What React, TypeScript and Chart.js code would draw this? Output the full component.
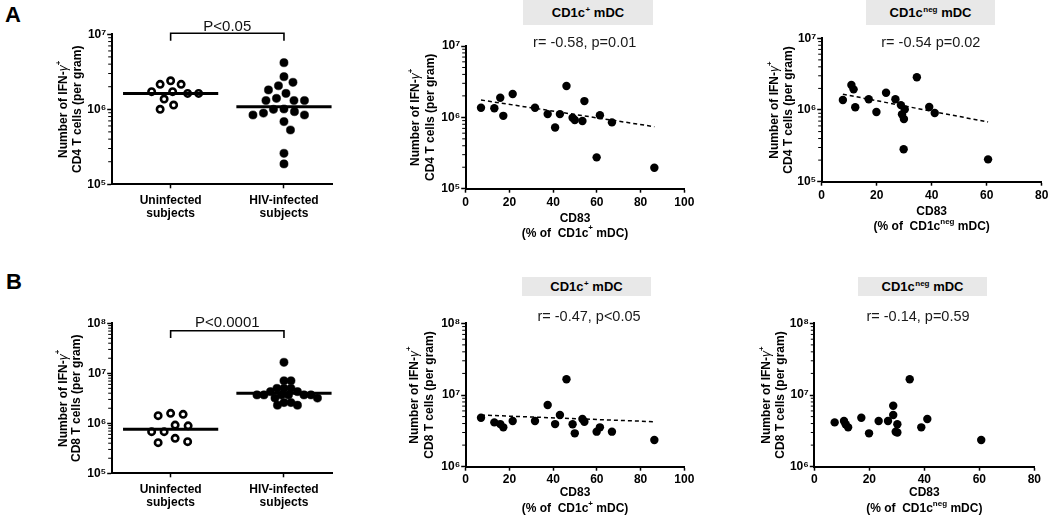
import React, { useEffect, useRef } from 'react';
import { Chart, registerables } from 'chart.js';

Chart.register(...registerables);

// ---------------- data ----------------
const groupLabels: string[][] = [['Uninfected', 'subjects'], ['HIV-infected', 'subjects']];

// Panel A, left: IFN-γ+ CD4 T cells per gram
const cd4Uninfected = [2.15e6, 2.4e6, 2.15e6, 1.72e6, 1.63e6, 1.63e6, 1.72e6, 1.37e6, 1.14e6, 1.0e6];
const cd4HIV = [4.18e6, 2.72e6, 2.29e6, 2.06e6, 1.81e6, 1.63e6, 1.4e6, 1.31e6, 1.31e6, 1.31e6, 1.0e6, 8.9e5, 8.4e5, 8.4e5, 9.3e5, 1.01e6, 6.85e5, 5.3e5, 2.59e5, 1.87e5];
const cd4UninfectedMedian = 1.63e6;
const cd4HIVMedian = 1.08e6;

// Panel B, left: IFN-γ+ CD8 T cells per gram
const cd8Uninfected = [1.51e6, 1.58e6, 1.42e6, 9.2e5, 8.9e5, 6.8e5, 6.8e5, 5.0e5, 4.1e5, 4.3e5];
const cd8HIV = [1.66e7, 7.1e6, 7.1e6, 5.0e6, 5.0e6, 5.0e6, 4.3e6, 4.3e6, 3.7e6, 3.7e6, 3.7e6, 3.7e6, 3.7e6, 3.7e6, 3.2e6, 3.2e6, 2.6e6, 2.6e6, 2.3e6, 2.3e6];
const cd8UninfectedMedian = 7.6e5;
const cd8HIVMedian = 4.0e6;

// CD83 (% of CD1c+ mDC), shared by the CD4 and CD8 correlations
const cd83OfPos = [7.0, 13.1, 15.8, 17.2, 21.5, 31.7, 37.5, 40.9, 43.1, 46.1, 48.9, 49.9, 53.4, 54.3, 61.4, 59.9, 66.9, 86.3];
const cd4VsPos = [1.36e6, 1.34e6, 1.88e6, 1.05e6, 2.12e6, 1.36e6, 1.11e6, 7.2e5, 1.11e6, 2.75e6, 9.9e5, 9.2e5, 8.9e5, 1.69e6, 1.07e6, 2.75e5, 8.5e5, 1.97e5];
const cd8VsPos = [4.82e6, 4.15e6, 3.93e6, 3.54e6, 4.34e6, 4.34e6, 7.25e6, 3.93e6, 5.25e6, 1.66e7, 3.9e6, 2.92e6, 4.62e6, 4.24e6, 3.54e6, 3.08e6, 3.08e6, 2.36e6];

// CD83 (% of CD1c-neg mDC)
const cd83OfNegA = [7.7, 10.8, 11.6, 12.2, 17.1, 19.9, 23.4, 26.8, 28.8, 30.2, 29.2, 29.9, 34.6, 29.8, 39.1, 41.1, 60.5];
const cd4VsNeg = [1.38e6, 2.23e6, 1.94e6, 1.09e6, 1.41e6, 9.4e5, 1.74e6, 1.41e6, 1.17e6, 1.02e6, 8.7e5, 7.5e5, 2.86e6, 2.83e5, 1.1e6, 9.1e5, 2.05e5];
const cd83OfNegB = [7.4, 10.8, 11.4, 12.3, 17.1, 19.9, 23.4, 26.8, 28.7, 28.7, 30.2, 29.6, 30.2, 34.7, 38.9, 41.1, 60.7];
const cd8VsNeg = [4.15e6, 4.34e6, 3.9e6, 3.54e6, 4.82e6, 2.92e6, 4.34e6, 4.34e6, 7.07e6, 5.25e6, 3.9e6, 3.08e6, 3.0e6, 1.66e7, 3.54e6, 4.62e6, 2.36e6];

// dashed trend lines (end points, data units)
const fitCd4PosX = [7.0, 86.3];
const fitCd4PosY = [1.75e6, 7.4e5];
const fitCd4NegX = [7.7, 60.5];
const fitCd4NegY = [1.66e6, 6.8e5];
const fitCd8PosX = [7.0, 86.3];
const fitCd8PosY = [5.25e6, 4.24e6];

// tick values
const yTicksCd4 = [1e5, 1e6, 1e7];
const yTicksCd8Group = [1e5, 1e6, 1e7, 1e8];
const yTicksCd8Scatter = [1e6, 1e7, 1e8];
const xTicksPos = [0, 20, 40, 60, 80, 100];
const xTicksNeg = [0, 20, 40, 60, 80];
const groupTicks = [0, 1];

// ---------------- styling helpers ----------------
const FONT = '"Liberation Sans", Arial, Helvetica, sans-serif';
const SUP: Record<string, string> = { '0': '⁰', '1': '¹', '2': '²', '3': '³', '4': '⁴', '5': '⁵', '6': '⁶', '7': '⁷', '8': '⁸', '9': '⁹' };
const powerLabel = (v: number) => '10' + String(Math.round(Math.log10(v))).split('').map((c) => SUP[c] ?? c).join('');

type Seg = { t: string; bold?: boolean; italic?: boolean; sup?: boolean };

function segFont(s: Seg, size: number): string {
  const sz = s.sup ? Math.round(size * 0.68) : size;
  return `${s.italic ? 'italic ' : ''}${s.bold === false ? 'normal' : 'bold'} ${sz}px ${FONT}`;
}

function drawRich(ctx: CanvasRenderingContext2D, segs: Seg[], size: number, cx: number, cy: number, color = '#000') {
  const widths = segs.map((s) => {
    ctx.font = segFont(s, size);
    return ctx.measureText(s.t).width;
  });
  const total = widths.reduce((a, b) => a + b, 0);
  let x = cx - total / 2;
  ctx.fillStyle = color;
  ctx.textBaseline = 'middle';
  ctx.textAlign = 'left';
  segs.forEach((s, i) => {
    ctx.font = segFont(s, size);
    ctx.fillText(s.t, x, s.sup ? cy - size * 0.42 : cy);
    x += widths[i];
  });
}

function swarmOffsets(values: number[], pxPerDecade: number, pxPerUnit: number, minDist: number): number[] {
  const ys = values.map((v) => Math.log10(v) * pxPerDecade);
  const order = values.map((_, i) => i).sort((a, b) => ys[b] - ys[a]);
  const placed: { x: number; y: number }[] = [];
  const out = new Array(values.length).fill(0);
  let flip = 1;
  for (const i of order) {
    const y = ys[i];
    let chosen = 0;
    for (let k = 0; k <= 400; k++) {
      const d = k * 0.5;
      const cands = k === 0 ? [0] : [d * flip, -d * flip];
      const ok = cands.find((c) => placed.every((p) => Math.hypot(p.x - c, p.y - y) >= minDist));
      if (ok !== undefined) {
        chosen = ok;
        break;
      }
    }
    if (chosen !== 0) flip = chosen > 0 ? -1 : 1;
    placed.push({ x: chosen, y });
    out[i] = chosen / pxPerUnit;
  }
  return out;
}

const MEDIAN_HALF = 0.42;
const Y_TITLE_SIZE = 12;

const yTitleCd4: Seg[][] = [
  [{ t: 'Number of IFN-' }, { t: 'γ', italic: true, bold: false }, { t: '+', sup: true }],
  [{ t: 'CD4 T cells (per gram)' }],
];
const yTitleCd8: Seg[][] = [
  [{ t: 'Number of IFN-' }, { t: 'γ', italic: true, bold: false }, { t: '+', sup: true }],
  [{ t: 'CD8 T cells (per gram)' }],
];
const xTitlePos: Seg[][] = [[{ t: 'CD83' }], [{ t: '(% of  CD1c' }, { t: '+', sup: true }, { t: ' mDC)' }]];
const xTitleNeg: Seg[][] = [[{ t: 'CD83' }], [{ t: '(% of  CD1c' }, { t: 'neg', sup: true }, { t: ' mDC)' }]];

interface PanelCfg {
  canvas: { left: number; top: number; width: number; height: number };
  area: { l: number; t: number; r: number; b: number };
  xMin: number;
  xMax: number;
  xTicks: number[];
  xTickLength: number;
  xTickPadding: number;
  xTickLineHeight: number;
  yMin: number;
  yMax: number;
  yTicks: number[];
  yTitle: Seg[][];
  yTitleX: number[];
  xTitle?: Seg[][];
  xTitleY?: number[];
  corr?: { text: string; x: number; y: number };
  pBracket?: { text: string; textY: number; barY: number; legY: number };
  group?: { uninf: number[]; hiv: number[]; medU: number; medH: number; distU: number; distH: number };
  scatter?: { xs: number[]; ys: number[]; fitX?: number[]; fitY?: number[] };
}

const PANELS: PanelCfg[] = [
  {
    canvas: { left: 40, top: 10, width: 310, height: 220 },
    area: { l: 111.7, t: 34.3, r: 332.7, b: 184.3 },
    xMin: -0.52, xMax: 1.43, xTicks: groupTicks, xTickLength: 4, xTickPadding: 6, xTickLineHeight: 1.05,
    yMin: 1e5, yMax: 1e7, yTicks: yTicksCd4,
    yTitle: yTitleCd4, yTitleX: [64, 77.5],
    pBracket: { text: 'P<0.05', textY: 26.5, barY: 33.3, legY: 40.7 },
    group: { uninf: cd4Uninfected, hiv: cd4HIV, medU: cd4UninfectedMedian, medH: cd4HIVMedian, distU: 11, distH: 10.5 },
  },
  {
    canvas: { left: 395, top: 30, width: 320, height: 215 },
    area: { l: 465.7, t: 46, r: 684.3, b: 188.7 },
    xMin: 0, xMax: 100, xTicks: xTicksPos, xTickLength: 4, xTickPadding: 3, xTickLineHeight: 1.2,
    yMin: 1e5, yMax: 1e7, yTicks: yTicksCd4,
    yTitle: yTitleCd4, yTitleX: [416, 430.5],
    xTitle: xTitlePos, xTitleY: [218.3, 233.3],
    corr: { text: 'r= -0.58, p=0.01', x: 584.7, y: 43 },
    scatter: { xs: cd83OfPos, ys: cd4VsPos, fitX: fitCd4PosX, fitY: fitCd4PosY },
  },
  {
    canvas: { left: 755, top: 28, width: 310, height: 217 },
    area: { l: 821.7, t: 38.3, r: 1041.7, b: 181.7 },
    xMin: 0, xMax: 80, xTicks: xTicksNeg, xTickLength: 4, xTickPadding: 3, xTickLineHeight: 1.2,
    yMin: 1e5, yMax: 1e7, yTicks: yTicksCd4,
    yTitle: yTitleCd4, yTitleX: [775, 789],
    xTitle: xTitleNeg, xTitleY: [212, 227],
    corr: { text: 'r= -0.54 p=0.02', x: 930.8, y: 43 },
    scatter: { xs: cd83OfNegA, ys: cd4VsNeg, fitX: fitCd4NegX, fitY: fitCd4NegY },
  },
  {
    canvas: { left: 40, top: 300, width: 310, height: 221 },
    area: { l: 111.7, t: 323.3, r: 332.7, b: 473.3 },
    xMin: -0.52, xMax: 1.43, xTicks: groupTicks, xTickLength: 4, xTickPadding: 6, xTickLineHeight: 1.05,
    yMin: 1e5, yMax: 1e8, yTicks: yTicksCd8Group,
    yTitle: yTitleCd8, yTitleX: [63.3, 77],
    pBracket: { text: 'P<0.0001', textY: 322.5, barY: 330.7, legY: 338 },
    group: { uninf: cd8Uninfected, hiv: cd8HIV, medU: cd8UninfectedMedian, medH: cd8HIVMedian, distU: 12.5, distH: 7 },
  },
  {
    canvas: { left: 395, top: 300, width: 320, height: 221 },
    area: { l: 465.7, t: 323.3, r: 684.3, b: 466.7 },
    xMin: 0, xMax: 100, xTicks: xTicksPos, xTickLength: 4, xTickPadding: 1.5, xTickLineHeight: 1.2,
    yMin: 1e6, yMax: 1e8, yTicks: yTicksCd8Scatter,
    yTitle: yTitleCd8, yTitleX: [414.3, 430],
    xTitle: xTitlePos, xTitleY: [493, 508.5],
    corr: { text: 'r= -0.47, p<0.05', x: 589, y: 316.7 },
    scatter: { xs: cd83OfPos, ys: cd8VsPos, fitX: fitCd8PosX, fitY: fitCd8PosY },
  },
  {
    canvas: { left: 750, top: 300, width: 315, height: 221 },
    area: { l: 814.3, t: 323.3, r: 1034.3, b: 466.7 },
    xMin: 0, xMax: 80, xTicks: xTicksNeg, xTickLength: 4, xTickPadding: 1.5, xTickLineHeight: 1.2,
    yMin: 1e6, yMax: 1e8, yTicks: yTicksCd8Scatter,
    yTitle: yTitleCd8, yTitleX: [766.7, 780.5],
    xTitle: xTitleNeg, xTitleY: [493, 508.5],
    corr: { text: 'r= -0.14, p=0.59', x: 918, y: 317 },
    scatter: { xs: cd83OfNegB, ys: cd8VsNeg },
  },
];

function buildDatasets(cfg: PanelCfg): any[] {
  const { area } = cfg;
  if (cfg.group) {
    const g = cfg.group;
    const pxPerDecade = (area.b - area.t) / (Math.log10(cfg.yMax) - Math.log10(cfg.yMin));
    const pxPerUnit = (area.r - area.l) / (cfg.xMax - cfg.xMin);
    const offU = swarmOffsets(g.uninf, pxPerDecade, pxPerUnit, g.distU);
    const offH = swarmOffsets(g.hiv, pxPerDecade, pxPerUnit, g.distH);
    const medLine = (cx: number, v: number) => ({
      data: [{ x: cx - MEDIAN_HALF, y: v }, { x: cx + MEDIAN_HALF, y: v }],
      showLine: true, borderColor: '#000', borderWidth: 3, pointRadius: 0, clip: false, borderCapStyle: 'butt',
    });
    return [
      medLine(0, g.medU),
      medLine(1, g.medH),
      {
        data: g.uninf.map((v, i) => ({ x: 0 + offU[i], y: v })),
        pointRadius: 3.2, pointBorderWidth: 2.6, pointBackgroundColor: '#fff', pointBorderColor: '#000', clip: false,
      },
      {
        data: g.hiv.map((v, i) => ({ x: 1 + offH[i], y: v })),
        pointRadius: 4.1, pointBorderWidth: 0.5, pointBackgroundColor: '#000', pointBorderColor: '#000', clip: false,
      },
    ];
  }
  const s = cfg.scatter!;
  const ds: any[] = [
    {
      data: s.xs.map((x, i) => ({ x, y: s.ys[i] })),
      pointRadius: 4.2, pointBorderWidth: 0, pointBackgroundColor: '#000', pointBorderColor: '#000', clip: false,
    },
  ];
  if (s.fitX && s.fitY) {
    const fy = s.fitY;
    ds.push({
      data: s.fitX.map((x, i) => ({ x, y: fy[i] })),
      showLine: true, borderColor: '#000', borderWidth: 1.5, borderDash: [4, 3], pointRadius: 0, clip: false,
    });
  }
  return ds;
}

function buildConfig(cfg: PanelCfg): any {
  const { canvas, area } = cfg;
  const px = (x: number) => x - canvas.left;
  const py = (y: number) => y - canvas.top;
  const decor = {
    id: 'decor',
    afterDraw(chart: any) {
      const ctx: CanvasRenderingContext2D = chart.ctx;
      const ys = chart.scales.y;
      const xs = chart.scales.x;
      ctx.save();
      // minor ticks on the log axis
      ctx.strokeStyle = '#000';
      ctx.lineWidth = 1;
      const e0 = Math.round(Math.log10(cfg.yMin));
      const e1 = Math.round(Math.log10(cfg.yMax));
      ctx.beginPath();
      for (let e = e0; e < e1; e++) {
        for (let k = 2; k <= 9; k++) {
          const y = ys.getPixelForValue(k * Math.pow(10, e));
          ctx.moveTo(chart.chartArea.left - 3.5, y);
          ctx.lineTo(chart.chartArea.left, y);
        }
      }
      ctx.stroke();
      // y title (rotated)
      const cy = py((area.t + area.b) / 2);
      cfg.yTitle.forEach((line, i) => {
        ctx.save();
        ctx.translate(px(cfg.yTitleX[i]), cy);
        ctx.rotate(-Math.PI / 2);
        drawRich(ctx, line, Y_TITLE_SIZE, 0, 0);
        ctx.restore();
      });
      // x title
      if (cfg.xTitle && cfg.xTitleY) {
        const cx = px((area.l + area.r) / 2);
        cfg.xTitle.forEach((line, i) => drawRich(ctx, line, 12, cx, py(cfg.xTitleY![i])));
      }
      // correlation text
      if (cfg.corr) {
        ctx.font = `14.5px ${FONT}`;
        ctx.fillStyle = '#1a1a1a';
        ctx.textAlign = 'center';
        ctx.textBaseline = 'middle';
        ctx.fillText(cfg.corr.text, px(cfg.corr.x), py(cfg.corr.y));
      }
      // significance bracket
      if (cfg.pBracket) {
        const b = cfg.pBracket;
        const x0 = xs.getPixelForValue(0);
        const x1 = xs.getPixelForValue(1);
        ctx.lineWidth = 1.6;
        ctx.beginPath();
        ctx.moveTo(x0, py(b.legY));
        ctx.lineTo(x0, py(b.barY));
        ctx.lineTo(x1, py(b.barY));
        ctx.lineTo(x1, py(b.legY));
        ctx.stroke();
        ctx.font = `15px ${FONT}`;
        ctx.fillStyle = '#111';
        ctx.textAlign = 'center';
        ctx.textBaseline = 'middle';
        ctx.fillText(b.text, (x0 + x1) / 2, py(b.textY));
      }
      ctx.restore();
    },
  };
  const tickFont = { family: FONT, size: 12, weight: 'bold' as const };
  return {
    type: 'scatter',
    data: { datasets: buildDatasets(cfg) },
    options: {
      animation: false,
      responsive: false,
      maintainAspectRatio: false,
      events: [],
      layout: {
        padding: {
          left: 0,
          top: area.t - canvas.top,
          right: canvas.left + canvas.width - area.r,
          bottom: 0,
        },
      },
      plugins: { legend: { display: false }, tooltip: { enabled: false }, title: { display: false } },
      scales: {
        x: {
          type: 'linear',
          min: cfg.xMin,
          max: cfg.xMax,
          afterBuildTicks: (s: any) => {
            s.ticks = cfg.xTicks.map((v) => ({ value: v }));
          },
          afterFit: (s: any) => {
            s.height = canvas.top + canvas.height - area.b;
          },
          ticks: {
            autoSkip: false,
            maxRotation: 0,
            minRotation: 0,
            padding: cfg.xTickPadding,
            color: '#000',
            font: { ...tickFont, lineHeight: cfg.xTickLineHeight },
            callback: (v: number) => (cfg.group ? groupLabels[Math.round(v)] : String(v)),
          },
          grid: { display: true, drawOnChartArea: false, drawTicks: true, tickLength: cfg.xTickLength, tickWidth: 1.5, tickColor: '#000' },
          border: { display: true, color: '#000', width: 2 },
        },
        y: {
          type: 'logarithmic',
          min: cfg.yMin,
          max: cfg.yMax,
          afterBuildTicks: (s: any) => {
            s.ticks = cfg.yTicks.map((v) => ({ value: v, major: true }));
          },
          afterFit: (s: any) => {
            s.width = area.l - canvas.left;
          },
          ticks: {
            autoSkip: false,
            padding: 1,
            color: '#000',
            font: tickFont,
            callback: (v: number) => powerLabel(v),
          },
          grid: { display: true, drawOnChartArea: false, drawTicks: true, tickLength: 4.5, tickWidth: 1.5, tickColor: '#000' },
          border: { display: true, color: '#000', width: 2 },
        },
      },
    },
    plugins: [decor],
  };
}

function ChartPanel({ cfg }: { cfg: PanelCfg }) {
  const ref = useRef<HTMLCanvasElement>(null);
  useEffect(() => {
    if (!ref.current) return;
    const chart = new Chart(ref.current, buildConfig(cfg));
    return () => chart.destroy();
  }, [cfg]);
  const c = cfg.canvas;
  return (
    <canvas
      ref={ref}
      width={c.width}
      height={c.height}
      style={{ position: 'absolute', left: c.left, top: c.top, width: c.width, height: c.height }}
    />
  );
}

const supStyle: React.CSSProperties = { fontSize: 8, position: 'relative', top: -5, marginLeft: 0.5 };

function TitleBox({ left, top, width, height, neg }: { left: number; top: number; width: number; height: number; neg?: boolean }) {
  return (
    <div
      style={{
        position: 'absolute', left, top, width, height, background: '#e8e8e8',
        display: 'flex', alignItems: 'center', justifyContent: 'center',
        font: `bold 13px ${FONT}`, color: '#000', whiteSpace: 'pre',
      }}
    >
      <span>
        CD1c<span style={supStyle}>{neg ? 'neg' : '+'}</span> mDC
      </span>
    </div>
  );
}

export default function App() {
  return (
    <div style={{ position: 'fixed', left: 0, top: 0, width: 1050, height: 521, background: '#fff', overflow: 'hidden' }}>
      {PANELS.map((p, i) => (
        <ChartPanel key={i} cfg={p} />
      ))}
      <TitleBox left={523} top={0} width={130} height={25} />
      <TitleBox left={866} top={0} width={129} height={25} neg />
      <TitleBox left={522} top={277} width={129} height={19} />
      <TitleBox left={858} top={277} width={129} height={19} neg />
      <div style={{ position: 'absolute', left: 5, top: 4, font: `bold 22px ${FONT}`, lineHeight: '22px' }}>A</div>
      <div style={{ position: 'absolute', left: 6, top: 271, font: `bold 22px ${FONT}`, lineHeight: '22px' }}>B</div>
    </div>
  );
}
